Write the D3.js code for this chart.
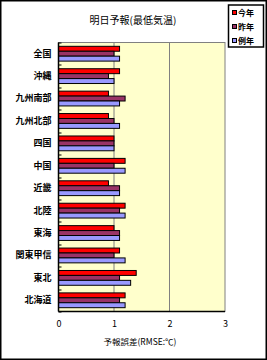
<!DOCTYPE html>
<html>
<head>
<meta charset="utf-8">
<script src="https://cdn.jsdelivr.net/npm/d3@7"></script>
<style>
  body { margin: 0; background: #fff; }
  text { font-family: "Noto Sans CJK JP", "DejaVu Sans", sans-serif; }
</style>
</head>
<body>
<div id="chart"></div>
<script>
// regions, top to bottom
const regions = ["全国", "沖縄", "九州南部", "九州北部", "四国", "中国", "近畿", "北陸", "東海", "関東甲信", "東北", "北海道"];
const seriesNames = ["今年", "昨年", "例年"];
const thisYear = [1.1, 1.1, 0.9, 0.9, 1.0, 1.2, 0.9, 1.2, 1.0, 1.1, 1.4, 1.2];
const lastYear = [1.0, 0.9, 1.2, 1.0, 1.0, 1.0, 1.1, 1.1, 1.1, 1.0, 1.1, 1.1];
const normalYear = [1.1, 1.0, 1.1, 1.1, 1.0, 1.2, 1.1, 1.2, 1.1, 1.2, 1.3, 1.2];
const xTicks = [0, 1, 2, 3];
const colors = ["#ff0000", "#993366", "#9999ff"];

const W = 267, H = 360;
const margin = {top: 42.5, right: 42, bottom: 48.5, left: 58.5};
const width = W - margin.left - margin.right;
const height = H - margin.top - margin.bottom;

const svg = d3.select("#chart").append("svg")
    .attr("width", W)
    .attr("height", H);

// outer frame
svg.append("rect")
    .attr("x", 0.75).attr("y", 0.75)
    .attr("width", W - 1.5).attr("height", H - 1.5)
    .attr("fill", "#fff")
    .attr("stroke", "#000")
    .attr("stroke-width", 1.5);

svg.append("text")
    .attr("x", 133).attr("y", 24)
    .attr("text-anchor", "middle")
    .attr("font-size", 10)
    .text("明日予報(最低気温)");

const g = svg.append("g")
    .attr("transform", `translate(${margin.left},${margin.top})`);

const x = d3.scaleLinear().domain([0, 3]).range([0, width]);
const y = d3.scaleBand().domain(regions).range([0, height])
    .paddingInner(0.34).paddingOuter(0.17);
const ySub = d3.scaleBand().domain(seriesNames).range([0, y.bandwidth()]);

g.append("rect")
    .attr("width", width).attr("height", height)
    .attr("fill", "#ffffcc")
    .attr("stroke", "#808080")
    .attr("stroke-width", 1);

// gridlines
g.append("g")
    .selectAll("line")
    .data(xTicks.slice(1, -1))
    .join("line")
    .attr("x1", d => x(d)).attr("x2", d => x(d))
    .attr("y1", 0).attr("y2", height)
    .attr("stroke", "#808080");

const seriesValues = [thisYear, lastYear, normalYear];

seriesValues.forEach((vals, i) => {
    g.append("g")
        .selectAll("rect")
        .data(regions)
        .join("rect")
        .attr("x", 0)
        .attr("y", (d) => y(d) + ySub(seriesNames[i]))
        .attr("width", (d, j) => x(vals[j]))
        .attr("height", ySub.bandwidth())
        .attr("fill", colors[i])
        .attr("stroke", "#000")
        .attr("stroke-width", 1);
});

// axes
const yAxis = g.append("g")
    .call(d3.axisLeft(y).tickSize(0).tickPadding(7));
yAxis.select(".domain").remove();
yAxis.selectAll("text")
    .attr("font-size", 9)
    .attr("font-weight", "bold")
    .attr("fill", "#000");

// inside tick marks on group boundaries
const step = y.step();
g.append("g")
    .selectAll("line")
    .data(d3.range(regions.length + 1))
    .join("line")
    .attr("x1", 0).attr("x2", 3)
    .attr("y1", d => Math.round(d * step) + 0.5)
    .attr("y2", d => Math.round(d * step) + 0.5)
    .attr("stroke", "#000");

g.append("line")
    .attr("x1", 0).attr("x2", 0)
    .attr("y1", 0).attr("y2", height)
    .attr("stroke", "#000").attr("stroke-width", 1.5);
g.append("line")
    .attr("x1", 0).attr("x2", width)
    .attr("y1", height).attr("y2", height)
    .attr("stroke", "#000").attr("stroke-width", 1.5);

const xAxis = g.append("g")
    .attr("transform", `translate(0,${height})`)
    .call(d3.axisBottom(x).tickValues(xTicks).tickFormat(d3.format("d")).tickSize(0).tickPadding(9));
xAxis.select(".domain").remove();
xAxis.selectAll("text").attr("font-size", 9).attr("fill", "#000");

svg.append("text")
    .attr("x", 140).attr("y", 345)
    .attr("text-anchor", "middle")
    .attr("font-size", 8.5)
    .text("予報誤差(RMSE:℃)");

// legend
const legend = svg.append("g");
legend.append("rect")
    .attr("x", 228.5).attr("y", 5)
    .attr("width", 35).attr("height", 42)
    .attr("fill", "#fff")
    .attr("stroke", "#000")
    .attr("stroke-width", 1.5);
const items = legend.selectAll("g")
    .data(seriesNames)
    .join("g")
    .attr("transform", (d, i) => `translate(232,${12.5 + i * 14})`);
items.append("rect")
    .attr("x", 0.5).attr("y", -2)
    .attr("width", 4).attr("height", 4)
    .attr("fill", (d, i) => colors[i])
    .attr("stroke", "#000");
items.append("text")
    .attr("x", 6).attr("y", 3)
    .attr("font-size", 8)
    .attr("font-weight", "bold")
    .text(d => d);
</script>
</body>
</html>
